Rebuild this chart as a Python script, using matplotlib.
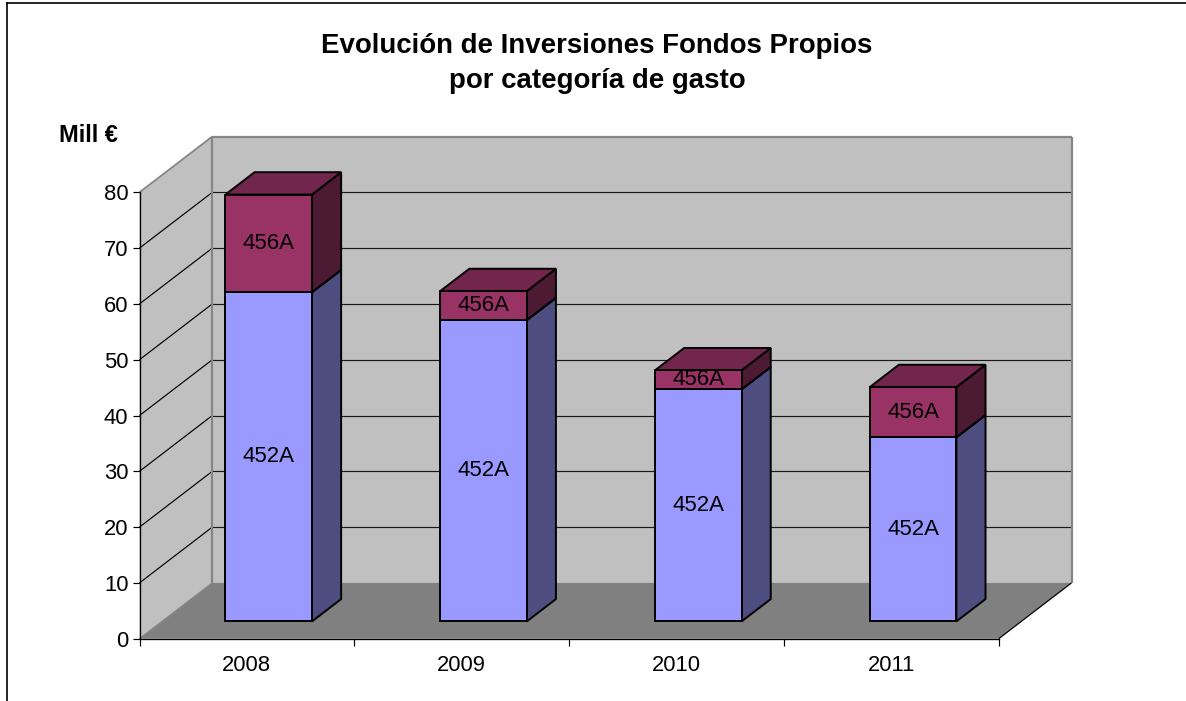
import matplotlib
matplotlib.use("Agg")
import matplotlib.pyplot as plt
from matplotlib.lines import Line2D

years = ["2008", "2009", "2010", "2011"]
series_names = ["452A", "456A"]
values_452a = [59.0, 54.0, 41.6, 33.0]
values_456a = [17.5, 5.2, 3.4, 9.0]
y_ticks = [0, 10, 20, 30, 40, 50, 60, 70, 80]
title_text = "Evolución de Inversiones Fondos Propios\npor categoría de gasto"
unit_label = "Mill €"

W, H = 1186, 701
DEPTH_X = 0.339   # category units for the full floor depth
DEPTH_Y = 10.0    # value units for the full floor depth
BAR_X0, BAR_X1 = 0.295, 0.698
BAR_D0, BAR_D1 = 0.31, 0.71

plt.rcParams["font.family"] = ["Liberation Sans", "DejaVu Sans"]
fig = plt.figure(figsize=(W / 100, H / 100), dpi=100, facecolor="white")
left, right, top, bottom = 139.5, 998.7, 192.3, 638.7
ax = fig.add_axes([left / W, 1 - bottom / H, (right - left) / W, (bottom - top) / H])
ax.set_xlim(0, len(years))
ax.set_ylim(0, y_ticks[-1])
ax.patch.set_visible(False)


def pt(x, y, d):
    return x + d * DEPTH_X, y + d * DEPTH_Y


def poly(points, color, edge="none", lw=0.0, z=1):
    xs, ys = zip(*[pt(*p) for p in points])
    ax.fill(xs, ys, facecolor=color, edgecolor=edge, linewidth=lw, clip_on=False,
            zorder=z, joinstyle="miter")


def seg(a, b, color="#000000", lw=0.85, z=3):
    xa, ya = pt(*a)
    xb, yb = pt(*b)
    ax.plot([xa, xb], [ya, yb], color=color, lw=lw, clip_on=False, zorder=z,
            solid_capstyle="butt")


n, ymax = len(years), y_ticks[-1]
WALL, FLOOR, WALL_EDGE = "#C0C0C0", "#808080", "#868686"
poly([(0, 0, 1), (n, 0, 1), (n, ymax, 1), (0, ymax, 1)], WALL, z=1)
poly([(0, 0, 0), (0, 0, 1), (0, ymax, 1), (0, ymax, 0)], WALL, z=1)
poly([(0, 0, 0), (n, 0, 0), (n, 0, 1), (0, 0, 1)], FLOOR, z=1)

for v in y_ticks[1:-1]:
    seg((0, v, 0), (0, v, 1), color="#000000", lw=0.85, z=2)
    seg((0, v, 1), (n, v, 1), color="#1a1a1a", lw=0.85, z=2)
# top gridline on the back wall
seg((0, ymax, 0), (0, ymax, 1), color=WALL_EDGE, lw=1.3, z=2)
seg((0, ymax, 1), (n, ymax, 1), color=WALL_EDGE, lw=1.6, z=2)
seg((n, ymax, 1), (n, 0, 1), color=WALL_EDGE, lw=1.6, z=2)
seg((0, ymax, 1), (0, 0, 1), color=WALL_EDGE, lw=1.6, z=2)
seg((0, 0, 0), (0, 0, 1), color=WALL_EDGE, lw=1.0, z=2)
seg((n, 0, 0), (n, 0, 1), color="#000000", lw=0.9, z=2)

STYLES = [
    {"front": "#9999FF", "side": "#4D4D80", "top": "#7373BF"},
    {"front": "#993366", "side": "#4D1A33", "top": "#73264D"},
]
EDGE_LW = 1.4


def draw_segment(i, y0, y1, style, label, z):
    x0, x1 = i + BAR_X0, i + BAR_X1
    poly([(x1, y0, BAR_D0), (x1, y0, BAR_D1), (x1, y1, BAR_D1), (x1, y1, BAR_D0)],
         style["side"], "#000000", EDGE_LW, z)
    poly([(x0, y1, BAR_D0), (x1, y1, BAR_D0), (x1, y1, BAR_D1), (x0, y1, BAR_D1)],
         style["top"], "#000000", EDGE_LW, z)
    poly([(x0, y0, BAR_D0), (x1, y0, BAR_D0), (x1, y1, BAR_D0), (x0, y1, BAR_D0)],
         style["front"], "#000000", EDGE_LW, z + 0.1)
    cx, cy = pt((x0 + x1) / 2, (y0 + y1) / 2, BAR_D0)
    ax.text(cx, cy, label, ha="center", va="center", fontsize=16, color="#000000",
            zorder=z + 5)


for i, (b, r) in enumerate(zip(values_452a, values_456a)):
    draw_segment(i, 0, b, STYLES[0], series_names[0], 5 + i)
    draw_segment(i, b, b + r, STYLES[1], series_names[1], 5 + i + 0.3)

ax.set_yticks(y_ticks)
ax.set_yticklabels([str(v) for v in y_ticks])
ax.set_xticks(range(n + 1))
ax.set_xticklabels([""] * (n + 1))
ax.set_xticks([i + 0.5 for i in range(n)], minor=True)
ax.set_xticklabels(years, minor=True)
ax.tick_params(axis="y", which="major", length=5.2, width=0.85, pad=2.8, labelsize=15.8)
ax.tick_params(axis="x", which="major", length=5.2, width=0.85)
ax.tick_params(axis="x", which="minor", length=0, pad=12, labelsize=15.8)
for name in ("top", "right"):
    ax.spines[name].set_visible(False)
for name in ("left", "bottom"):
    ax.spines[name].set_linewidth(0.95)
    ax.spines[name].set_zorder(3)

fig.text(597 / W, 1 - 63.5 / H, title_text, ha="center", va="center", fontsize=19.9,
         fontweight="bold", linespacing=1.48)
fig.text(59 / W, 1 - 135.5 / H, unit_label, ha="left", va="center", fontsize=16.9,
         fontweight="bold")

fig.add_artist(Line2D([6.5 / W, 6.5 / W], [0, 1 - 2.5 / H], color="#000000", lw=1.2,
                      transform=fig.transFigure))
fig.add_artist(Line2D([6.5 / W, 1], [1 - 2.5 / H, 1 - 2.5 / H], color="#000000", lw=1.2,
                      transform=fig.transFigure))

fig.savefig("out.png", dpi=100)
